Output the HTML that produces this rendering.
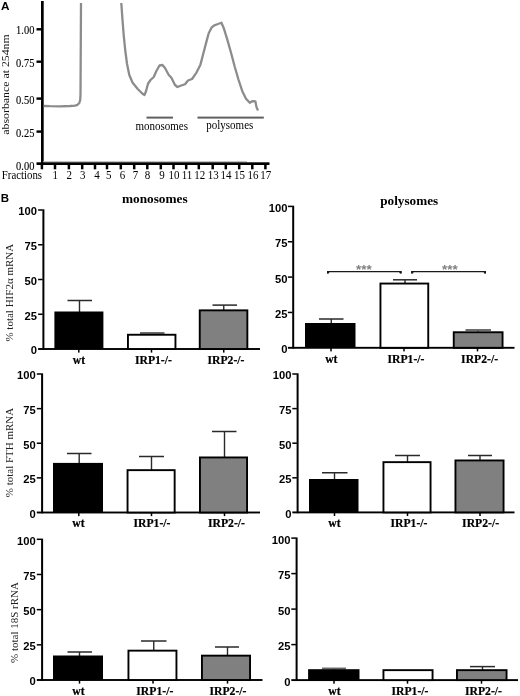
<!DOCTYPE html>
<html><head><meta charset="utf-8"><title>Figure</title>
<style>
html,body{margin:0;padding:0;background:#fff;}
body{width:520px;height:696px;overflow:hidden;}
svg{display:block;}
.se{font-family:"Liberation Serif","Times New Roman",serif;}
.sa{font-family:"Liberation Sans",Arial,sans-serif;font-weight:bold;}
.sb{font-family:"Liberation Serif","Times New Roman",serif;font-weight:bold;}
</style></head><body>
<svg width="520" height="696" viewBox="0 0 520 696">
<rect width="520" height="696" fill="#fff"/>

<g id="panelA">
<text class="sa" transform="translate(1.1,9.7) scale(1.18,1)" font-size="10">A</text>
<rect x="41" y="1" width="2.7" height="163.8" fill="#000"/>
<rect x="43" y="161.2" width="204" height="1.2" fill="#b5b5b5"/>
<rect x="36.5" y="162.3" width="233" height="2.7" fill="#000"/>
<rect x="36.5" y="28.1" width="5" height="2.4" fill="#000"/>
<rect x="36.5" y="60.5" width="5" height="2.4" fill="#000"/>
<rect x="36.5" y="97.4" width="5" height="2.4" fill="#000"/>
<rect x="36.5" y="130.4" width="5" height="2.4" fill="#000"/>
<text class="se" transform="translate(34.4,34.4) scale(0.95,1.15)" stroke="#000" stroke-width="0.1" font-size="11" text-anchor="end">1.00</text>
<text class="se" transform="translate(34.4,66.8) scale(0.95,1.15)" stroke="#000" stroke-width="0.1" font-size="11" text-anchor="end">0.75</text>
<text class="se" transform="translate(34.4,103.7) scale(0.95,1.15)" stroke="#000" stroke-width="0.1" font-size="11" text-anchor="end">0.50</text>
<text class="se" transform="translate(34.4,136.7) scale(0.95,1.15)" stroke="#000" stroke-width="0.1" font-size="11" text-anchor="end">0.25</text>
<text class="se" transform="translate(34.4,169.6) scale(0.95,1.15)" stroke="#000" stroke-width="0.1" font-size="11" text-anchor="end">0.00</text>
<rect x="40.65" y="164" width="2.5" height="5.3" fill="#000"/>
<rect x="53.75" y="164" width="2.5" height="5.3" fill="#000"/>
<text class="se" transform="translate(55.2,178.9) scale(1,1.2)" font-size="11" text-anchor="middle">1</text>
<rect x="67.65" y="164" width="2.5" height="5.3" fill="#000"/>
<text class="se" transform="translate(69.2,178.9) scale(1,1.2)" font-size="11" text-anchor="middle">2</text>
<rect x="80.95" y="164" width="2.5" height="5.3" fill="#000"/>
<text class="se" transform="translate(82.7,178.9) scale(1,1.2)" font-size="11" text-anchor="middle">3</text>
<rect x="93.75" y="164" width="2.5" height="5.3" fill="#000"/>
<text class="se" transform="translate(97,178.9) scale(1,1.2)" font-size="11" text-anchor="middle">4</text>
<rect x="105.75" y="164" width="2.5" height="5.3" fill="#000"/>
<text class="se" transform="translate(108.8,178.9) scale(1,1.2)" font-size="11" text-anchor="middle">5</text>
<rect x="119.55" y="164" width="2.5" height="5.3" fill="#000"/>
<text class="se" transform="translate(122.5,178.9) scale(1,1.2)" font-size="11" text-anchor="middle">6</text>
<rect x="132.95" y="164" width="2.5" height="5.3" fill="#000"/>
<text class="se" transform="translate(135.6,178.9) scale(1,1.2)" font-size="11" text-anchor="middle">7</text>
<rect x="146.05" y="164" width="2.5" height="5.3" fill="#000"/>
<text class="se" transform="translate(147.5,178.9) scale(1,1.2)" font-size="11" text-anchor="middle">8</text>
<rect x="159.55" y="164" width="2.5" height="5.3" fill="#000"/>
<text class="se" transform="translate(162,178.9) scale(1,1.2)" font-size="11" text-anchor="middle">9</text>
<rect x="172.25" y="164" width="2.5" height="5.3" fill="#000"/>
<text class="se" transform="translate(174,178.9) scale(1,1.2)" font-size="11" text-anchor="middle">10</text>
<rect x="184.95" y="164" width="2.5" height="5.3" fill="#000"/>
<text class="se" transform="translate(187,178.9) scale(1,1.2)" font-size="11" text-anchor="middle">11</text>
<rect x="197.55" y="164" width="2.5" height="5.3" fill="#000"/>
<text class="se" transform="translate(199.8,178.9) scale(1,1.2)" font-size="11" text-anchor="middle">12</text>
<rect x="211.45" y="164" width="2.5" height="5.3" fill="#000"/>
<text class="se" transform="translate(213.3,178.9) scale(1,1.2)" font-size="11" text-anchor="middle">13</text>
<rect x="224.55" y="164" width="2.5" height="5.3" fill="#000"/>
<text class="se" transform="translate(226,178.9) scale(1,1.2)" font-size="11" text-anchor="middle">14</text>
<rect x="237.95" y="164" width="2.5" height="5.3" fill="#000"/>
<text class="se" transform="translate(239.6,178.9) scale(1,1.2)" font-size="11" text-anchor="middle">15</text>
<rect x="251.05" y="164" width="2.5" height="5.3" fill="#000"/>
<text class="se" transform="translate(253,178.9) scale(1,1.2)" font-size="11" text-anchor="middle">16</text>
<rect x="264.15" y="164" width="2.5" height="5.3" fill="#000"/>
<text class="se" transform="translate(265.8,178.9) scale(1,1.2)" font-size="11" text-anchor="middle">17</text>
<text class="se" transform="translate(1.8,178.9) scale(0.985,1.2)" font-size="11">Fractions</text>
<text class="se" font-size="11" text-anchor="middle" transform="translate(9.4,84.5) rotate(-90) scale(1.075,1)" fill="#111">absorbance at 254nm</text>
<polyline points="43.8,106 50,106.2 60,106.3 70,106 75,105.6 77.5,104.8 79.3,103 80.2,100 80.5,95 81,3" fill="none" stroke="#8c8c8c" stroke-width="2.3" stroke-linejoin="round" stroke-linecap="butt"/>
<polyline points="121.3,3 122.5,20 123.7,35 125.2,50 127,63.75 129.3,75 132.5,82.5 137.5,88.75 142.5,93.75 144.5,95 146,91.25 148,83.75 150.5,80 153.75,77 156.25,71.25 159.5,65.5 162.5,65 165,68 168.75,75 171.25,77.5 175,85 177.5,87 181.25,85.5 185,84.25 188,80.5 192,79 196.5,72.6 200.3,65.1 203,54.8 205.9,43.6 208.7,33.3 211.5,27.7 214.3,25.3 218,24 221.4,22.7 223.6,27.7 227.4,39.9 231.1,53 234.8,67 238.6,80 242.3,91.2 246,98.7 249.8,102.8 252.6,101.1 255.4,101.5 256.5,107.1 258,110.5" fill="none" stroke="#8c8c8c" stroke-width="2.3" stroke-linejoin="round" stroke-linecap="butt"/>
<rect x="146.5" y="116.6" width="26.5" height="2" fill="#606060"/>
<rect x="197.5" y="116.6" width="66.3" height="2" fill="#606060"/>
<text class="se" transform="translate(161.7,129.7) scale(1,1.15)" font-size="11" text-anchor="middle">monosomes</text>
<text class="se" transform="translate(229.8,129.4) scale(1,1.15)" font-size="11" text-anchor="middle">polysomes</text>
</g>
<g id="panelB">
<text class="sa" transform="translate(0.8,201.8) scale(1.15,1)" font-size="10">B</text>
<text class="sb" x="154.8" y="203" font-size="13.3" text-anchor="middle">monosomes</text>
<text class="sb" x="409.2" y="204.5" font-size="13.2" text-anchor="middle">polysomes</text>
<rect x="42.4" y="209.3" width="2" height="140.5" fill="#000"/>
<rect x="38.1" y="348.05" width="221.9" height="1.9" fill="#000"/>
<rect x="38.1" y="209.25" width="4.6" height="1.5" fill="#000"/>
<text class="sa" transform="translate(37,215.4) scale(1.1,1)" font-size="10.2" text-anchor="end">100</text>
<rect x="38.1" y="244" width="4.6" height="1.5" fill="#000"/>
<text class="sa" transform="translate(37,250.15) scale(1.1,1)" font-size="10.2" text-anchor="end">75</text>
<rect x="38.1" y="278.75" width="4.6" height="1.5" fill="#000"/>
<text class="sa" transform="translate(37,284.9) scale(1.1,1)" font-size="10.2" text-anchor="end">50</text>
<rect x="38.1" y="313.5" width="4.6" height="1.5" fill="#000"/>
<text class="sa" transform="translate(37,319.65) scale(1.1,1)" font-size="10.2" text-anchor="end">25</text>
<text class="sa" transform="translate(37,354.4) scale(1.1,1)" font-size="10.2" text-anchor="end">0</text>
<rect x="78.8" y="300.5" width="1.4" height="12" fill="#2a2a2a"/>
<rect x="67.5" y="299.75" width="24.5" height="1.5" fill="#2a2a2a"/>
<rect x="54.4" y="311.5" width="49" height="37.5" fill="#000"/>
<rect x="150.8" y="333" width="1.4" height="1.8" fill="#666"/>
<rect x="140" y="332.05" width="24.5" height="1.9" fill="#666"/>
<rect x="127.95" y="334.75" width="47.5" height="14.25" fill="#fff" stroke="#000" stroke-width="1.9"/>
<rect x="223.05" y="305.1" width="1.4" height="5.3" fill="#2a2a2a"/>
<rect x="212.5" y="304.35" width="24.5" height="1.5" fill="#2a2a2a"/>
<rect x="199.75" y="310.35" width="47.6" height="38.65" fill="#808080" stroke="#000" stroke-width="1.9"/>
<rect x="78.05" y="349" width="1.5" height="3.6" fill="#000"/>
<rect x="150.75" y="349" width="1.5" height="3.6" fill="#000"/>
<rect x="223" y="349" width="1.5" height="3.6" fill="#000"/>
<text class="sb" x="79" y="363.5" font-size="11.7" stroke="#000" stroke-width="0.2" text-anchor="middle">wt</text>
<text class="sb" x="153.4" y="363.5" font-size="11.7" stroke="#000" stroke-width="0.2" text-anchor="middle">IRP1-/-</text>
<text class="sb" x="226" y="363.5" font-size="11.7" stroke="#000" stroke-width="0.2" text-anchor="middle">IRP2-/-</text>
<text class="se" font-size="11" fill="#222" text-anchor="middle" transform="translate(12.5,292.7) rotate(-90)">% total HIF2α mRNA</text>
<rect x="292.2" y="205.7" width="2" height="142.9" fill="#000"/>
<rect x="287.9" y="346.85" width="226.6" height="1.9" fill="#000"/>
<rect x="287.9" y="205.65" width="4.6" height="1.5" fill="#000"/>
<text class="sa" transform="translate(287.4,211.8) scale(1.1,1)" font-size="10.2" text-anchor="end">100</text>
<rect x="287.9" y="241" width="4.6" height="1.5" fill="#000"/>
<text class="sa" transform="translate(287.4,247.15) scale(1.1,1)" font-size="10.2" text-anchor="end">75</text>
<rect x="287.9" y="276.35" width="4.6" height="1.5" fill="#000"/>
<text class="sa" transform="translate(287.4,282.5) scale(1.1,1)" font-size="10.2" text-anchor="end">50</text>
<rect x="287.9" y="311.7" width="4.6" height="1.5" fill="#000"/>
<text class="sa" transform="translate(287.4,317.85) scale(1.1,1)" font-size="10.2" text-anchor="end">25</text>
<text class="sa" transform="translate(287.4,353.2) scale(1.1,1)" font-size="10.2" text-anchor="end">0</text>
<rect x="330.55" y="319" width="1.4" height="5" fill="#2a2a2a"/>
<rect x="319" y="318.25" width="24.5" height="1.5" fill="#2a2a2a"/>
<rect x="305" y="323" width="50.5" height="24.8" fill="#000"/>
<rect x="404.3" y="279.8" width="1.4" height="3.8" fill="#2a2a2a"/>
<rect x="393" y="279.05" width="24" height="1.5" fill="#2a2a2a"/>
<rect x="380.45" y="283.55" width="47.8" height="64.25" fill="#fff" stroke="#000" stroke-width="1.9"/>
<rect x="477.3" y="330" width="1.4" height="2.3" fill="#666"/>
<rect x="465.5" y="329.05" width="25.5" height="1.9" fill="#666"/>
<rect x="453.75" y="332.25" width="48.8" height="15.55" fill="#808080" stroke="#000" stroke-width="1.9"/>
<rect x="330.25" y="347.8" width="1.5" height="3.6" fill="#000"/>
<rect x="403.25" y="347.8" width="1.5" height="3.6" fill="#000"/>
<rect x="476.75" y="347.8" width="1.5" height="3.6" fill="#000"/>
<text class="sb" x="331.3" y="363.2" font-size="11.7" stroke="#000" stroke-width="0.2" text-anchor="middle">wt</text>
<text class="sb" x="406" y="363.2" font-size="11.7" stroke="#000" stroke-width="0.2" text-anchor="middle">IRP1-/-</text>
<text class="sb" x="479.6" y="363.2" font-size="11.7" stroke="#000" stroke-width="0.2" text-anchor="middle">IRP2-/-</text>
<rect x="41.1" y="373.3" width="2" height="140" fill="#000"/>
<rect x="36.8" y="511.55" width="223.2" height="1.9" fill="#000"/>
<rect x="36.8" y="373.25" width="4.6" height="1.5" fill="#000"/>
<text class="sa" transform="translate(35.7,379.4) scale(1.1,1)" font-size="10.2" text-anchor="end">100</text>
<rect x="36.8" y="407.88" width="4.6" height="1.5" fill="#000"/>
<text class="sa" transform="translate(35.7,414.02) scale(1.1,1)" font-size="10.2" text-anchor="end">75</text>
<rect x="36.8" y="442.5" width="4.6" height="1.5" fill="#000"/>
<text class="sa" transform="translate(35.7,448.65) scale(1.1,1)" font-size="10.2" text-anchor="end">50</text>
<rect x="36.8" y="477.12" width="4.6" height="1.5" fill="#000"/>
<text class="sa" transform="translate(35.7,483.27) scale(1.1,1)" font-size="10.2" text-anchor="end">25</text>
<text class="sa" transform="translate(35.7,517.9) scale(1.1,1)" font-size="10.2" text-anchor="end">0</text>
<rect x="78.5" y="453.5" width="1.4" height="10.4" fill="#2a2a2a"/>
<rect x="67" y="452.75" width="24.5" height="1.5" fill="#2a2a2a"/>
<rect x="53" y="462.9" width="50" height="49.6" fill="#000"/>
<rect x="150.8" y="456.5" width="1.4" height="13.7" fill="#2a2a2a"/>
<rect x="139" y="455.75" width="25" height="1.5" fill="#2a2a2a"/>
<rect x="127.55" y="470.15" width="47.1" height="42.35" fill="#fff" stroke="#000" stroke-width="1.9"/>
<rect x="223.8" y="431.5" width="1.4" height="26" fill="#2a2a2a"/>
<rect x="212" y="430.75" width="24.5" height="1.5" fill="#2a2a2a"/>
<rect x="199.95" y="457.45" width="47.1" height="55.05" fill="#808080" stroke="#000" stroke-width="1.9"/>
<rect x="78.05" y="512.5" width="1.5" height="3.6" fill="#000"/>
<rect x="150.75" y="512.5" width="1.5" height="3.6" fill="#000"/>
<rect x="223.75" y="512.5" width="1.5" height="3.6" fill="#000"/>
<text class="sb" x="78.5" y="527" font-size="11.7" stroke="#000" stroke-width="0.2" text-anchor="middle">wt</text>
<text class="sb" x="152" y="527" font-size="11.7" stroke="#000" stroke-width="0.2" text-anchor="middle">IRP1-/-</text>
<text class="sb" x="226.5" y="527" font-size="11.7" stroke="#000" stroke-width="0.2" text-anchor="middle">IRP2-/-</text>
<text class="se" font-size="11" fill="#222" text-anchor="middle" transform="translate(13.2,452.5) rotate(-90)">% total FTH mRNA</text>
<rect x="296.6" y="373.3" width="2" height="139.9" fill="#000"/>
<rect x="292.3" y="511.45" width="222.2" height="1.9" fill="#000"/>
<rect x="292.3" y="373.25" width="4.6" height="1.5" fill="#000"/>
<text class="sa" transform="translate(291.4,379.4) scale(1.1,1)" font-size="10.2" text-anchor="end">100</text>
<rect x="292.3" y="407.85" width="4.6" height="1.5" fill="#000"/>
<text class="sa" transform="translate(291.4,414) scale(1.1,1)" font-size="10.2" text-anchor="end">75</text>
<rect x="292.3" y="442.45" width="4.6" height="1.5" fill="#000"/>
<text class="sa" transform="translate(291.4,448.6) scale(1.1,1)" font-size="10.2" text-anchor="end">50</text>
<rect x="292.3" y="477.05" width="4.6" height="1.5" fill="#000"/>
<text class="sa" transform="translate(291.4,483.2) scale(1.1,1)" font-size="10.2" text-anchor="end">25</text>
<text class="sa" transform="translate(291.4,517.8) scale(1.1,1)" font-size="10.2" text-anchor="end">0</text>
<rect x="333.8" y="472.75" width="1.4" height="7.25" fill="#2a2a2a"/>
<rect x="322" y="472" width="25.5" height="1.5" fill="#2a2a2a"/>
<rect x="309" y="479" width="49.5" height="33.4" fill="#000"/>
<rect x="406.8" y="455.5" width="1.4" height="6.7" fill="#2a2a2a"/>
<rect x="395" y="454.75" width="25" height="1.5" fill="#2a2a2a"/>
<rect x="383.45" y="462.15" width="47.1" height="50.25" fill="#fff" stroke="#000" stroke-width="1.9"/>
<rect x="479.3" y="455.5" width="1.4" height="5" fill="#2a2a2a"/>
<rect x="468" y="454.75" width="24" height="1.5" fill="#2a2a2a"/>
<rect x="455.45" y="460.45" width="48.1" height="51.95" fill="#808080" stroke="#000" stroke-width="1.9"/>
<rect x="333.75" y="512.4" width="1.5" height="3.6" fill="#000"/>
<rect x="406.75" y="512.4" width="1.5" height="3.6" fill="#000"/>
<rect x="479.25" y="512.4" width="1.5" height="3.6" fill="#000"/>
<text class="sb" x="334.4" y="527" font-size="11.7" stroke="#000" stroke-width="0.2" text-anchor="middle">wt</text>
<text class="sb" x="409" y="527" font-size="11.7" stroke="#000" stroke-width="0.2" text-anchor="middle">IRP1-/-</text>
<text class="sb" x="480.6" y="527" font-size="11.7" stroke="#000" stroke-width="0.2" text-anchor="middle">IRP2-/-</text>
<rect x="41.1" y="538.6" width="2" height="142.2" fill="#000"/>
<rect x="36.8" y="679.05" width="225.7" height="1.9" fill="#000"/>
<rect x="36.8" y="538.55" width="4.6" height="1.5" fill="#000"/>
<text class="sa" transform="translate(35.7,544.7) scale(1.1,1)" font-size="10.2" text-anchor="end">100</text>
<rect x="36.8" y="573.72" width="4.6" height="1.5" fill="#000"/>
<text class="sa" transform="translate(35.7,579.87) scale(1.1,1)" font-size="10.2" text-anchor="end">75</text>
<rect x="36.8" y="608.9" width="4.6" height="1.5" fill="#000"/>
<text class="sa" transform="translate(35.7,615.05) scale(1.1,1)" font-size="10.2" text-anchor="end">50</text>
<rect x="36.8" y="644.08" width="4.6" height="1.5" fill="#000"/>
<text class="sa" transform="translate(35.7,650.23) scale(1.1,1)" font-size="10.2" text-anchor="end">25</text>
<text class="sa" transform="translate(35.7,685.4) scale(1.1,1)" font-size="10.2" text-anchor="end">0</text>
<rect x="78.8" y="652" width="1.4" height="4.5" fill="#2a2a2a"/>
<rect x="67.5" y="651.25" width="24.5" height="1.5" fill="#2a2a2a"/>
<rect x="53" y="655.5" width="50" height="24.5" fill="#000"/>
<rect x="153.05" y="641" width="1.4" height="9.7" fill="#2a2a2a"/>
<rect x="141" y="640.25" width="25.5" height="1.5" fill="#2a2a2a"/>
<rect x="128.45" y="650.65" width="48" height="29.35" fill="#fff" stroke="#000" stroke-width="1.9"/>
<rect x="226.8" y="647" width="1.4" height="8.7" fill="#2a2a2a"/>
<rect x="215" y="646.25" width="24" height="1.5" fill="#2a2a2a"/>
<rect x="201.95" y="655.65" width="48.1" height="24.35" fill="#808080" stroke="#000" stroke-width="1.9"/>
<rect x="78.75" y="680" width="1.5" height="3.6" fill="#000"/>
<rect x="152.25" y="680" width="1.5" height="3.6" fill="#000"/>
<rect x="226.75" y="680" width="1.5" height="3.6" fill="#000"/>
<text class="sb" x="78.5" y="694.5" font-size="11.7" stroke="#000" stroke-width="0.2" text-anchor="middle">wt</text>
<text class="sb" x="154.8" y="694.5" font-size="11.7" stroke="#000" stroke-width="0.2" text-anchor="middle">IRP1-/-</text>
<text class="sb" x="228" y="694.5" font-size="11.7" stroke="#000" stroke-width="0.2" text-anchor="middle">IRP2-/-</text>
<text class="se" font-size="11" fill="#222" text-anchor="middle" transform="translate(18.2,622.5) rotate(-90)">% total 18S rRNA</text>
<rect x="295.6" y="537.4" width="2" height="143.5" fill="#000"/>
<rect x="291.3" y="679.15" width="226.7" height="1.9" fill="#000"/>
<rect x="291.3" y="537.35" width="4.6" height="1.5" fill="#000"/>
<text class="sa" transform="translate(290.4,543.5) scale(1.1,1)" font-size="10.2" text-anchor="end">100</text>
<rect x="291.3" y="572.85" width="4.6" height="1.5" fill="#000"/>
<text class="sa" transform="translate(290.4,579) scale(1.1,1)" font-size="10.2" text-anchor="end">75</text>
<rect x="291.3" y="608.35" width="4.6" height="1.5" fill="#000"/>
<text class="sa" transform="translate(290.4,614.5) scale(1.1,1)" font-size="10.2" text-anchor="end">50</text>
<rect x="291.3" y="643.85" width="4.6" height="1.5" fill="#000"/>
<text class="sa" transform="translate(290.4,650) scale(1.1,1)" font-size="10.2" text-anchor="end">25</text>
<text class="sa" transform="translate(290.4,685.5) scale(1.1,1)" font-size="10.2" text-anchor="end">0</text>
<rect x="333.3" y="668.5" width="1.4" height="1.7" fill="#666"/>
<rect x="322" y="667.55" width="24" height="1.9" fill="#666"/>
<rect x="308.1" y="669.2" width="51.4" height="10.9" fill="#000"/>
<rect x="383.45" y="670.15" width="49.1" height="9.95" fill="#fff" stroke="#000" stroke-width="1.9"/>
<rect x="481.8" y="666.6" width="1.4" height="3.6" fill="#2a2a2a"/>
<rect x="470" y="665.85" width="25" height="1.5" fill="#2a2a2a"/>
<rect x="456.95" y="670.15" width="49.6" height="9.95" fill="#808080" stroke="#000" stroke-width="1.9"/>
<rect x="333.25" y="680.1" width="1.5" height="3.6" fill="#000"/>
<rect x="406.75" y="680.1" width="1.5" height="3.6" fill="#000"/>
<rect x="480.75" y="680.1" width="1.5" height="3.6" fill="#000"/>
<text class="sb" x="334.4" y="694.5" font-size="11.7" stroke="#000" stroke-width="0.2" text-anchor="middle">wt</text>
<text class="sb" x="410" y="694.5" font-size="11.7" stroke="#000" stroke-width="0.2" text-anchor="middle">IRP1-/-</text>
<text class="sb" x="483.5" y="694.5" font-size="11.7" stroke="#000" stroke-width="0.2" text-anchor="middle">IRP2-/-</text>
<path d="M327.65 273.4 V271.6 H400.95 V273.4" fill="none" stroke="#1a1a1a" stroke-width="1.3"/>
<rect x="327" y="271" width="2.2" height="2.6" rx="0.8" fill="#1a1a1a"/>
<rect x="399.4" y="271" width="2.2" height="2.6" rx="0.8" fill="#1a1a1a"/>
<text x="363.8" y="274.4" font-size="13.4" fill="#808080" font-weight="bold" text-anchor="middle" style="font-family:'Liberation Sans',Arial,sans-serif">***</text>
<path d="M411.85 273.4 V271.6 H485.35 V273.4" fill="none" stroke="#1a1a1a" stroke-width="1.3"/>
<rect x="411.2" y="271" width="2.2" height="2.6" rx="0.8" fill="#1a1a1a"/>
<rect x="483.8" y="271" width="2.2" height="2.6" rx="0.8" fill="#1a1a1a"/>
<text x="449.8" y="274.4" font-size="13.4" fill="#808080" font-weight="bold" text-anchor="middle" style="font-family:'Liberation Sans',Arial,sans-serif">***</text>
</g>
</svg></body></html>
